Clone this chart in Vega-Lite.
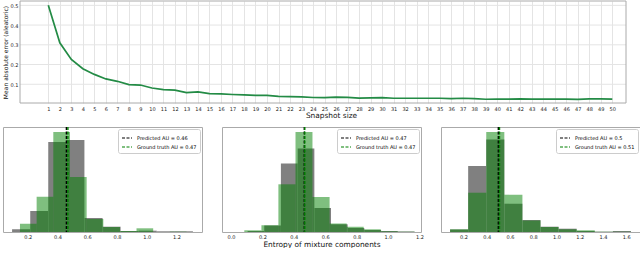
{
  "$schema": "https://vega.github.io/schema/vega-lite/v6.json",
  "padding": {"left": 2, "top": 0, "right": 0, "bottom": 0},
  "background": "white",
  "config": {
    "font": "DejaVu Sans",
    "view": {"stroke": "#aaaaaa", "strokeWidth": 1},
    "axis": {"labelFont": "DejaVu Sans", "titleFont": "DejaVu Sans", "labelColor": "#222222", "titleColor": "#111111", "titleFontWeight": "normal", "tickSize": 0, "domain": false, "labelFontSize": 5, "labelOverlap": false},
    "legend": {"orient": "top-right", "offset": 2, "strokeColor": "#cccccc", "fillColor": "#ffffff", "padding": 3, "cornerRadius": 2, "labelFontSize": 5, "labelFont": "DejaVu Sans", "symbolType": "stroke", "symbolStrokeWidth": 1.2, "symbolSize": 100, "symbolDash": [3, 1.5], "rowPadding": 0, "labelOffset": 4}
  },
  "spacing": 6,
  "vconcat": [
    {
      "width": 623,
      "height": 102,
      "view": {"stroke": null},
      "layer": [
        {
          "data": {"values": [{"g": 0.1}, {"g": 0.2}, {"g": 0.3}, {"g": 0.4}, {"g": 0.5}]},
          "mark": {"type": "rule", "color": "#e4e4e4", "strokeWidth": 1},
          "encoding": {
            "y": {"field": "g", "type": "quantitative",
              "scale": {"domain": [0.005, 0.522], "nice": false, "zero": false},
              "axis": {"values": [0.1, 0.2, 0.3, 0.4, 0.5], "format": ".1f", "offset": -17, "title": "Mean absolute error (aleatoric)", "titleFontSize": 6, "titlePadding": 2, "labelPadding": 2, "grid": false, "labelOverlap": false}},
            "x": {"datum": -1.46, "type": "quantitative",
              "scale": {"domain": [-2.937, 51.19], "nice": false, "zero": false},
              "axis": {"values": [1,2,3,4,5,6,7,8,9,10,11,12,13,14,15,16,17,18,19,20,21,22,23,24,25,26,27,28,29,30,31,32,33,34,35,36,37,38,39,40,41,42,43,44,45,46,47,48,49,50],
                "format": "d", "title": "Snapshot size", "titleFontSize": 7.4, "titlePadding": 0, "titleX": 328, "labelPadding": 3, "grid": true, "gridColor": "#e4e4e4", "labelOverlap": false}},
            "x2": {"datum": 51.19}
          }
        },
        {
          "data": {"values": [{"n": 1, "mae": 0.5}, {"n": 2, "mae": 0.31}, {"n": 3, "mae": 0.226}, {"n": 4, "mae": 0.179}, {"n": 5, "mae": 0.15},
            {"n": 6, "mae": 0.127}, {"n": 7, "mae": 0.115}, {"n": 8, "mae": 0.098}, {"n": 9, "mae": 0.096}, {"n": 10, "mae": 0.081},
            {"n": 11, "mae": 0.073}, {"n": 12, "mae": 0.07}, {"n": 13, "mae": 0.058}, {"n": 14, "mae": 0.061}, {"n": 15, "mae": 0.053},
            {"n": 16, "mae": 0.051}, {"n": 17, "mae": 0.048}, {"n": 18, "mae": 0.046}, {"n": 19, "mae": 0.044}, {"n": 20, "mae": 0.044},
            {"n": 21, "mae": 0.039}, {"n": 22, "mae": 0.037}, {"n": 23, "mae": 0.036}, {"n": 24, "mae": 0.033}, {"n": 25, "mae": 0.032},
            {"n": 26, "mae": 0.035}, {"n": 27, "mae": 0.034}, {"n": 28, "mae": 0.03}, {"n": 29, "mae": 0.031}, {"n": 30, "mae": 0.032},
            {"n": 31, "mae": 0.029}, {"n": 32, "mae": 0.029}, {"n": 33, "mae": 0.029}, {"n": 34, "mae": 0.029}, {"n": 35, "mae": 0.029},
            {"n": 36, "mae": 0.027}, {"n": 37, "mae": 0.029}, {"n": 38, "mae": 0.027}, {"n": 39, "mae": 0.024}, {"n": 40, "mae": 0.025},
            {"n": 41, "mae": 0.025}, {"n": 42, "mae": 0.026}, {"n": 43, "mae": 0.025}, {"n": 44, "mae": 0.025}, {"n": 45, "mae": 0.025},
            {"n": 46, "mae": 0.025}, {"n": 47, "mae": 0.023}, {"n": 48, "mae": 0.026}, {"n": 49, "mae": 0.026}, {"n": 50, "mae": 0.025}
          ]},
          "mark": {"type": "line", "color": "#238b45", "strokeWidth": 1.7},
          "encoding": {
            "x": {"field": "n", "type": "quantitative",
              "axis": {"values": [1,2,3,4,5,6,7,8,9,10,11,12,13,14,15,16,17,18,19,20,21,22,23,24,25,26,27,28,29,30,31,32,33,34,35,36,37,38,39,40,41,42,43,44,45,46,47,48,49,50],
                "format": "d", "title": "Snapshot size", "titleFontSize": 7.4, "titlePadding": 0, "titleX": 328, "labelPadding": 3, "grid": true, "gridColor": "#e4e4e4", "labelOverlap": false}},
            "y": {"field": "mae", "type": "quantitative",
              "axis": {"values": [0.1, 0.2, 0.3, 0.4, 0.5], "format": ".1f", "offset": -17, "title": "Mean absolute error (aleatoric)", "titleFontSize": 6, "titlePadding": 2, "labelPadding": 2, "grid": false, "labelOverlap": false}}
          }
        },
        {
          "data": {"values": [{"frame": "axes"}]},
          "mark": {"type": "rect", "fill": null, "fillOpacity": 0, "stroke": "#aaaaaa", "strokeWidth": 1},
          "encoding": {
            "x": {"datum": -1.46, "type": "quantitative",
              "axis": {"values": [1,2,3,4,5,6,7,8,9,10,11,12,13,14,15,16,17,18,19,20,21,22,23,24,25,26,27,28,29,30,31,32,33,34,35,36,37,38,39,40,41,42,43,44,45,46,47,48,49,50],
                "format": "d", "title": "Snapshot size", "titleFontSize": 7.4, "titlePadding": 0, "titleX": 328, "labelPadding": 3, "grid": true, "gridColor": "#e4e4e4", "labelOverlap": false}},
            "x2": {"datum": 51.19},
            "y": {"datum": 0.005, "type": "quantitative",
              "axis": {"values": [0.1, 0.2, 0.3, 0.4, 0.5], "format": ".1f", "offset": -17, "title": "Mean absolute error (aleatoric)", "titleFontSize": 6, "titlePadding": 2, "labelPadding": 2, "grid": false, "labelOverlap": false}},
            "y2": {"datum": 0.522}
          }
        }
      ]
    },
    {
      "hconcat": [
        {
          "width": 199, "height": 105,
          "layer": [
            {
              "data": {"values": [
                {"x0": 0.095, "x1": 0.217, "h": 2.7}, {"x0": 0.217, "x1": 0.338, "h": 21}, {"x0": 0.338, "x1": 0.46, "h": 90},
                {"x0": 0.46, "x1": 0.581, "h": 92}, {"x0": 0.581, "x1": 0.703, "h": 14}, {"x0": 0.703, "x1": 0.824, "h": 5.3},
                {"x0": 0.824, "x1": 0.946, "h": 1}, {"x0": 0.946, "x1": 1.067, "h": 1.3}, {"x0": 1.067, "x1": 1.189, "h": 0.7},
                {"x0": 1.189, "x1": 1.31, "h": 0.7}
              ]},
              "mark": {"type": "bar", "color": "#808080"},
              "encoding": {
                "x": {"field": "x0", "type": "quantitative", "scale": {"domain": [0.034, 1.371], "nice": false, "zero": false},
                  "axis": {"values": [0.2, 0.4, 0.6, 0.8, 1.0, 1.2], "format": ".1f", "title": null, "labelPadding": 2.5, "grid": false, "labelOverlap": false}},
                "x2": {"field": "x1"},
                "y": {"field": "h", "type": "quantitative", "scale": {"domain": [0, 105], "nice": false}, "axis": null},
                "y2": {"datum": 0}
              }
            },
            {
              "data": {"values": [
                {"x0": 0.148, "x1": 0.26, "h": 8.3}, {"x0": 0.26, "x1": 0.372, "h": 35.3}, {"x0": 0.372, "x1": 0.484, "h": 100},
                {"x0": 0.484, "x1": 0.596, "h": 55}, {"x0": 0.596, "x1": 0.708, "h": 13}, {"x0": 0.708, "x1": 0.82, "h": 5},
                {"x0": 0.82, "x1": 0.931, "h": 1}, {"x0": 0.931, "x1": 1.043, "h": 3.7}, {"x0": 1.043, "x1": 1.155, "h": 0},
                {"x0": 1.155, "x1": 1.267, "h": 0.3}
              ]},
              "mark": {"type": "bar", "color": "#008000", "opacity": 0.5},
              "encoding": {
                "x": {"field": "x0", "type": "quantitative",
                  "axis": {"values": [0.2, 0.4, 0.6, 0.8, 1.0, 1.2], "format": ".1f", "title": null, "labelPadding": 2.5, "grid": false, "labelOverlap": false}},
                "x2": {"field": "x1"},
                "y": {"field": "h", "type": "quantitative", "axis": null},
                "y2": {"datum": 0}
              }
            },
            {
              "data": {"values": [
                {"label": "Predicted AU = 0.46", "v": 0.46},
                {"label": "Ground truth AU = 0.47", "v": 0.47}
              ]},
              "mark": {"type": "rule", "strokeWidth": 1.4, "strokeDash": [3, 1.5]},
              "encoding": {
                "x": {"field": "v", "type": "quantitative",
                  "axis": {"values": [0.2, 0.4, 0.6, 0.8, 1.0, 1.2], "format": ".1f", "title": null, "labelPadding": 2.5, "grid": false, "labelOverlap": false}},
                "color": {"field": "label", "type": "nominal",
                  "scale": {"domain": ["Predicted AU = 0.46", "Ground truth AU = 0.47"], "range": ["#000000", "#008000"]},
                  "legend": {"title": null}}
              }
            }
          ]
        },
        {
          "width": 199, "height": 105,
          "layer": [
            {
              "data": {"values": [
                {"x0": 0.106, "x1": 0.212, "h": 1}, {"x0": 0.212, "x1": 0.318, "h": 6.5}, {"x0": 0.318, "x1": 0.425, "h": 68.6},
                {"x0": 0.425, "x1": 0.531, "h": 83.6}, {"x0": 0.531, "x1": 0.637, "h": 24}, {"x0": 0.637, "x1": 0.743, "h": 7.7},
                {"x0": 0.743, "x1": 0.849, "h": 4}, {"x0": 0.849, "x1": 0.956, "h": 2}, {"x0": 0.956, "x1": 1.062, "h": 1},
                {"x0": 1.062, "x1": 1.168, "h": 0.5}
              ]},
              "mark": {"type": "bar", "color": "#808080"},
              "encoding": {
                "x": {"field": "x0", "type": "quantitative", "scale": {"domain": [-0.057, 1.21], "nice": false, "zero": false},
                  "axis": {"values": [0.0, 0.2, 0.4, 0.6, 0.8, 1.0, 1.2], "format": ".1f", "title": "Entropy of mixture components", "titleFontSize": 7.4, "titlePadding": 0.5, "labelPadding": 2.5, "grid": false, "labelOverlap": false}},
                "x2": {"field": "x1"},
                "y": {"field": "h", "type": "quantitative", "scale": {"domain": [0, 105], "nice": false}, "axis": null},
                "y2": {"datum": 0}
              }
            },
            {
              "data": {"values": [
                {"x0": 0.085, "x1": 0.194, "h": 1.7}, {"x0": 0.194, "x1": 0.302, "h": 6.7}, {"x0": 0.302, "x1": 0.411, "h": 47.7},
                {"x0": 0.411, "x1": 0.519, "h": 100}, {"x0": 0.519, "x1": 0.628, "h": 35}, {"x0": 0.628, "x1": 0.737, "h": 8.5},
                {"x0": 0.737, "x1": 0.845, "h": 5.3}, {"x0": 0.845, "x1": 0.954, "h": 2.7}, {"x0": 0.954, "x1": 1.063, "h": 0.7},
                {"x0": 1.063, "x1": 1.171, "h": 0.3}
              ]},
              "mark": {"type": "bar", "color": "#008000", "opacity": 0.5},
              "encoding": {
                "x": {"field": "x0", "type": "quantitative",
                  "axis": {"values": [0.0, 0.2, 0.4, 0.6, 0.8, 1.0, 1.2], "format": ".1f", "title": "Entropy of mixture components", "titleFontSize": 7.4, "titlePadding": 0.5, "labelPadding": 2.5, "grid": false, "labelOverlap": false}},
                "x2": {"field": "x1"},
                "y": {"field": "h", "type": "quantitative", "axis": null},
                "y2": {"datum": 0}
              }
            },
            {
              "data": {"values": [
                {"label": "Predicted AU = 0.47", "v": 0.467},
                {"label": "Ground truth AU = 0.47", "v": 0.47}
              ]},
              "mark": {"type": "rule", "strokeWidth": 1.4, "strokeDash": [3, 1.5]},
              "encoding": {
                "x": {"field": "v", "type": "quantitative",
                  "axis": {"values": [0.0, 0.2, 0.4, 0.6, 0.8, 1.0, 1.2], "format": ".1f", "title": "Entropy of mixture components", "titleFontSize": 7.4, "titlePadding": 0.5, "labelPadding": 2.5, "grid": false, "labelOverlap": false}},
                "color": {"field": "label", "type": "nominal",
                  "scale": {"domain": ["Predicted AU = 0.47", "Ground truth AU = 0.47"], "range": ["#000000", "#008000"]},
                  "legend": {"title": null}}
              }
            }
          ]
        },
        {
          "width": 199, "height": 105,
          "layer": [
            {
              "data": {"values": [
                {"x0": 0.085, "x1": 0.2405, "h": 2.5}, {"x0": 0.2405, "x1": 0.396, "h": 66}, {"x0": 0.396, "x1": 0.5515, "h": 92.6},
                {"x0": 0.5515, "x1": 0.707, "h": 28.3}, {"x0": 0.707, "x1": 0.8625, "h": 12}, {"x0": 0.8625, "x1": 1.018, "h": 5.3},
                {"x0": 1.018, "x1": 1.1735, "h": 3.3}, {"x0": 1.1735, "x1": 1.329, "h": 1}, {"x0": 1.329, "x1": 1.4845, "h": 0.3},
                {"x0": 1.4845, "x1": 1.64, "h": 1}
              ]},
              "mark": {"type": "bar", "color": "#808080"},
              "encoding": {
                "x": {"field": "x0", "type": "quantitative", "scale": {"domain": [0.007, 1.718], "nice": false, "zero": false},
                  "axis": {"values": [0.2, 0.4, 0.6, 0.8, 1.0, 1.2, 1.4, 1.6], "format": ".1f", "title": null, "labelPadding": 2.5, "grid": false, "labelOverlap": false}},
                "x2": {"field": "x1"},
                "y": {"field": "h", "type": "quantitative", "scale": {"domain": [0, 105], "nice": false}, "axis": null},
                "y2": {"datum": 0}
              }
            },
            {
              "data": {"values": [
                {"x0": 0.085, "x1": 0.2405, "h": 2.7}, {"x0": 0.2405, "x1": 0.396, "h": 39.3}, {"x0": 0.396, "x1": 0.5515, "h": 100},
                {"x0": 0.5515, "x1": 0.707, "h": 37.3}, {"x0": 0.707, "x1": 0.8625, "h": 11.5}, {"x0": 0.8625, "x1": 1.018, "h": 5},
                {"x0": 1.018, "x1": 1.1735, "h": 2.7}, {"x0": 1.1735, "x1": 1.329, "h": 1.7}, {"x0": 1.329, "x1": 1.4845, "h": 0.3},
                {"x0": 1.4845, "x1": 1.64, "h": 0.3}
              ]},
              "mark": {"type": "bar", "color": "#008000", "opacity": 0.5},
              "encoding": {
                "x": {"field": "x0", "type": "quantitative",
                  "axis": {"values": [0.2, 0.4, 0.6, 0.8, 1.0, 1.2, 1.4, 1.6], "format": ".1f", "title": null, "labelPadding": 2.5, "grid": false, "labelOverlap": false}},
                "x2": {"field": "x1"},
                "y": {"field": "h", "type": "quantitative", "axis": null},
                "y2": {"datum": 0}
              }
            },
            {
              "data": {"values": [
                {"label": "Predicted AU = 0.5", "v": 0.5},
                {"label": "Ground truth AU = 0.51", "v": 0.51}
              ]},
              "mark": {"type": "rule", "strokeWidth": 1.4, "strokeDash": [3, 1.5]},
              "encoding": {
                "x": {"field": "v", "type": "quantitative",
                  "axis": {"values": [0.2, 0.4, 0.6, 0.8, 1.0, 1.2, 1.4, 1.6], "format": ".1f", "title": null, "labelPadding": 2.5, "grid": false, "labelOverlap": false}},
                "color": {"field": "label", "type": "nominal",
                  "scale": {"domain": ["Predicted AU = 0.5", "Ground truth AU = 0.51"], "range": ["#000000", "#008000"]},
                  "legend": {"title": null}}
              }
            }
          ]
        }
      ],
      "spacing": 20,
      "bounds": "flush",
      "resolve": {"scale": {"x": "independent", "y": "independent", "color": "independent"}, "legend": {"color": "independent"}, "axis": {"x": "independent", "y": "independent"}}
    }
  ]
}
